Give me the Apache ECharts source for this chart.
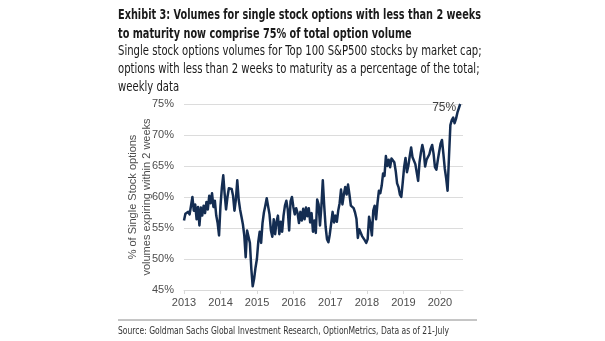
<!DOCTYPE html>
<html>
<head>
<meta charset="utf-8">
<style>
  html, body { margin: 0; padding: 0; background: #ffffff; }
  #chart { width: 605px; height: 341px; }
</style>
<script src="https://cdn.jsdelivr.net/npm/echarts@6/dist/echarts.min.js"></script>
</head>
<body>
<div id="chart"></div>
<script>
// Share of single-stock option volume expiring within 2 weeks (%), one reading every 2 weeks
const seriesStart = '2013-01-01';
const stepDays = 14;
const shortDatedShare = [
  56.2, 57.3, 57.0, 57.6, 57.2, 58.6, 60.0, 57.8, 58.8, 56.4,
  58.4, 55.4, 58.3, 57.0, 58.6, 57.4, 59.2, 58.0, 60.2, 59.0,
  60.6, 58.4, 59.4, 57.0, 55.8, 53.8, 58.5, 61.5, 63.5, 60.5,
  58.0, 60.0, 61.4, 61.1, 61.3, 60.2, 57.8, 59.6, 62.7, 59.6,
  58.0, 56.8, 55.6, 53.8, 50.3, 54.6, 54.3, 52.6, 48.5, 45.6,
  46.8, 48.6, 50.0, 52.8, 54.4, 52.6, 55.8, 57.5, 58.6, 59.8,
  60.0, 57.2, 54.6, 53.6, 56.4, 54.0, 56.0, 57.0, 54.0, 56.0,
  54.4, 57.0, 58.6, 59.4, 58.0, 54.6, 59.3, 60.0, 58.4, 57.2,
  58.2, 57.4, 55.8, 57.6, 56.2, 58.1, 56.4, 58.3, 56.9, 58.2,
  55.9, 57.4, 54.4, 56.2, 54.2, 59.6, 58.8, 55.4, 58.5, 62.7,
  58.6, 55.2, 53.2, 52.7, 54.0, 55.8, 57.6, 55.9, 57.0, 56.0,
  57.8, 59.0, 61.2, 58.8, 60.4, 61.6, 60.4, 62.0, 60.4, 58.6,
  58.6, 58.2, 57.5, 56.5, 53.4, 54.8, 54.5, 53.7, 53.5, 53.0,
  52.6, 53.2, 56.8, 55.6, 53.8, 57.8, 58.6, 56.4, 59.0, 61.0,
  60.6, 61.8, 63.8, 63.4, 66.6, 65.0, 66.0, 64.8, 66.2, 66.2,
  65.6, 64.2, 62.2, 61.6, 60.4, 60.0, 62.3, 64.8, 66.3, 64.0,
  65.0, 66.6, 68.0, 66.4, 66.2, 65.3, 65.6, 62.6, 65.6, 67.2,
  68.4, 67.3, 64.9, 66.0, 65.8, 66.9, 67.8, 68.4, 67.0, 64.8,
  64.4, 65.9, 67.3, 68.6, 69.2, 67.0, 64.6, 63.0, 61.0, 66.5,
  71.6, 72.4, 72.8, 71.9, 72.6, 73.6, 74.3, 75.0
];
const yTicks = [45, 50, 55, 60, 65, 70, 75];

const titleLines = [
  'Exhibit 3: Volumes for single stock options with less than 2 weeks',
  'to maturity now comprise 75% of total option volume'
];
const subtitleLines = [
  'Single stock options volumes for Top 100 S&P500 stocks by market cap;',
  'options with less than 2 weeks to maturity as a percentage of the total;',
  'weekly data'
];
const yAxisTitle = ['% of Single Stock options', 'volumes expiring within 2 weeks'];
const sourceNote = 'Source: Goldman Sachs Global Investment Research, OptionMetrics, Data as of 21-July';

// pair each reading with its date
const DAY = 86400000;
const t0 = new Date(seriesStart + 'T00:00:00').getTime();
const points = shortDatedShare.map((v, i) => {
  const item = { value: [t0 + i * stepDays * DAY, v] };
  if (i === shortDatedShare.length - 1) {
    item.label = {
      show: true, position: 'left', distance: 4, offset: [0, 4],
      formatter: p => Math.round(p.value[1]) + '%',
      color: '#404040', fontSize: 12,
      fontFamily: 'Liberation Sans, Arial, sans-serif'
    };
  }
  return item;
});

// heading font, squeezed horizontally to a condensed look
const heading = '"DejaVu Sans Condensed", "DejaVu Sans", sans-serif';
const sans = '"Liberation Sans", Arial, sans-serif';

const chart = echarts.init(document.getElementById('chart'), null, { renderer: 'canvas' });
chart.setOption({
  animation: false,
  backgroundColor: '#ffffff',
  grid: { left: 184, right: 142, top: 104, bottom: 51, containLabel: false },
  xAxis: {
    type: 'time',
    min: '2013-01-01',
    max: '2020-08-18',
    minInterval: 365 * DAY,
    maxInterval: 366 * DAY,
    splitNumber: 8,
    axisLine: { show: true, lineStyle: { color: '#d9d9d9', width: 1 } },
    axisTick: { show: true, length: 4, lineStyle: { color: '#d9d9d9' } },
    splitLine: { show: false },
    axisLabel: {
      formatter: '{yyyy}', color: '#4d4d4d', fontSize: 11, fontFamily: sans,
      margin: 7, showMinLabel: true
    }
  },
  yAxis: {
    type: 'value',
    min: yTicks[0],
    max: yTicks[yTicks.length - 1],
    interval: 5,
    axisLine: { show: false },
    axisTick: { show: false },
    splitLine: { show: true, lineStyle: { color: '#dcdcdc', width: 1 } },
    axisLabel: { formatter: '{value}%', color: '#4d4d4d', fontSize: 11, fontFamily: sans, margin: 10 }
  },
  series: [{
    type: 'line',
    data: points,
    showSymbol: true,
    showAllSymbol: true,
    symbol: 'circle',
    symbolSize: 0,
    lineStyle: { color: '#142d52', width: 2.5, join: 'round' },
    itemStyle: { color: '#142d52' },
    emphasis: { disabled: true }
  }],
  graphic: [
    {
      type: 'text', x: 118, y: 6, scaleX: 0.772,
      style: {
        text: titleLines.join('\n'), fill: '#1a1a1a',
        font: 'bold 14px ' + heading, lineHeight: 19,
        align: 'left', verticalAlign: 'top'
      }
    },
    {
      type: 'text', x: 118, y: 42, scaleX: 0.80,
      style: {
        text: subtitleLines.join('\n'), fill: '#1a1a1a',
        font: '14px ' + heading, lineHeight: 18,
        align: 'left', verticalAlign: 'top'
      }
    },
    {
      type: 'text', x: 140, y: 197, rotation: Math.PI / 2,
      style: {
        text: yAxisTitle.join('\n'), fill: '#4d4d4d',
        font: '11px ' + sans, lineHeight: 14,
        align: 'center', verticalAlign: 'middle'
      }
    },
    {
      type: 'line',
      shape: { x1: 118, y1: 320, x2: 477, y2: 320 },
      style: { stroke: '#8c8c8c', lineWidth: 1 }
    },
    {
      type: 'text', x: 118, y: 326, scaleX: 0.77,
      style: {
        text: sourceNote, fill: '#333333', font: '11px ' + heading,
        align: 'left', verticalAlign: 'top'
      }
    }
  ]
});
</script>
</body>
</html>
